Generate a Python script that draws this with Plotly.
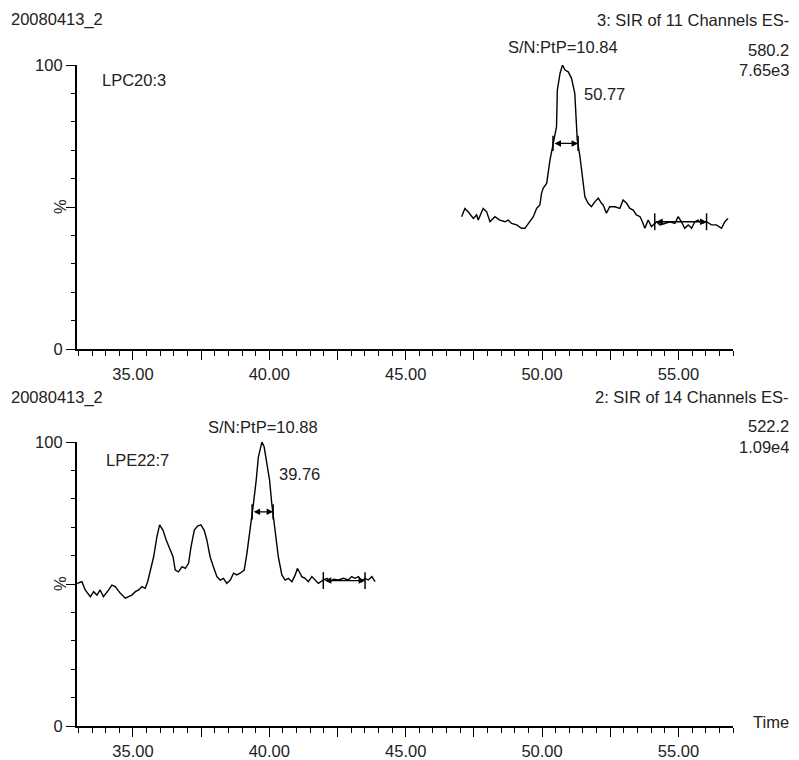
import plotly.graph_objects as go

# ---------------- data ----------------
top_time = [47.05,47.17,47.29,47.48,47.60,47.66,47.84,47.97,48.09,48.27,48.45,48.64,48.76,48.88,49.07,49.25,49.37,49.55,49.68,49.80,
            49.92,49.98,50.04,50.17,50.23,50.29,50.41,50.53,50.56,50.66,50.75,50.84,50.96,51.08,51.20,51.24,51.29,51.39,51.45,51.51,
            51.57,51.69,51.81,51.94,52.06,52.18,52.24,52.36,52.48,52.67,52.85,52.97,53.10,53.22,53.34,53.46,53.59,53.65,53.77,53.89,
            54.01,54.20,54.32,54.50,54.68,54.87,54.99,55.11,55.23,55.36,55.48,55.60,55.72,55.84,56.03,56.21,56.39,56.58,56.70,56.82]
top_int = [46.6,49.5,48.3,46.0,47.2,45.4,49.5,48.3,44.8,46.6,45.4,44.8,45.4,44.2,43.7,42.5,42.5,44.8,46.6,49.5,
           50.7,54.8,56.6,58.4,63.0,66.5,72.4,78.3,91.2,97.1,100.0,98.2,97.6,95.3,90.0,84.2,73.6,67.7,63.0,58.3,
           53.6,51.3,50.1,51.9,53.1,51.3,50.7,47.8,50.1,50.1,49.5,52.5,51.3,49.5,48.9,47.2,46.6,45.4,42.5,45.4,
           43.1,44.8,43.7,44.2,44.8,44.2,46.6,44.8,42.5,43.7,42.5,44.8,45.4,44.2,44.8,43.7,43.7,42.5,44.8,46.0]

bot_time = [32.95,33.13,33.25,33.44,33.56,33.68,33.80,33.92,34.11,34.23,34.35,34.54,34.72,34.84,34.96,35.09,35.21,35.33,35.45,35.54,
            35.63,35.76,35.88,35.98,36.10,36.22,36.37,36.47,36.55,36.67,36.80,36.92,37.04,37.13,37.25,37.37,37.49,37.61,37.71,37.83,
            37.95,38.08,38.20,38.32,38.44,38.57,38.69,38.81,38.93,39.08,39.18,39.30,39.42,39.52,39.60,39.73,39.81,39.91,40.01,40.09,
            40.21,40.33,40.46,40.58,40.70,40.83,40.95,41.03,41.13,41.19,41.31,41.43,41.56,41.68,41.80,41.98,42.11,42.23,42.35,42.53,
            42.72,42.90,43.02,43.14,43.27,43.39,43.51,43.63,43.76,43.88]
bot_int = [50.2,50.8,47.9,45.5,47.3,46.1,47.9,45.5,47.9,49.6,49.1,46.7,45.0,45.5,46.1,47.3,47.9,49.1,48.5,50.8,
           54.9,59.6,66.7,70.8,69.0,65.5,62.0,59.6,54.9,54.3,56.1,55.5,57.3,63.1,69.0,70.4,70.8,69.0,65.5,59.6,
           56.1,52.6,51.4,52.0,50.2,51.4,53.8,53.2,53.8,54.9,60.8,69.0,78.4,86.6,94.8,100.0,98.3,92.5,86.6,78.4,
           69.0,59.6,53.2,51.4,52.0,50.8,53.2,55.5,53.8,52.6,52.0,50.8,52.6,51.4,50.2,51.4,52.0,50.8,51.7,51.4,
           52.0,51.4,52.6,52.0,52.6,50.8,52.0,51.4,52.6,50.8]

x_range = [32.95, 57.0]
x_major = [35, 37.5, 40, 42.5, 45, 47.5, 50, 52.5, 55]
x_labels = ["35.00", "", "40.00", "", "45.00", "", "50.00", "", "55.00"]
y_ticks = [0, 50, 100]
y_labels = ["0", "", "100"]

top_peak_rt, bot_peak_rt = 50.77, 39.76
top_fwhm, top_fwhm_level = [50.40, 51.32], 72.4
bot_fwhm, bot_fwhm_level = [39.37, 40.14], 75.4
top_noise, top_noise_level = [54.13, 56.03], 44.8
bot_noise, bot_noise_level = [41.98, 43.51], 51.2

# ---------------- layout helpers (page pixels; page has an 8px body margin) ----------------
OFF = 8
W, H = 799 - OFF, 760 - OFF
ML = 77 - OFF
MR = W - (733 - OFF)
PW = W - ML - MR
def px(x):
    return (x - OFF - ML) / PW
def py(y):
    return 1 - (y - OFF) / H

FONT = "Liberation Sans, Arial, sans-serif"
FS = 16.5
TC = "#222222"

fig = go.Figure()
line = dict(color="black", width=1.4)
fig.add_trace(go.Scatter(x=top_time, y=top_int, mode="lines", line=line, xaxis="x", yaxis="y", showlegend=False))
fig.add_trace(go.Scatter(x=bot_time, y=bot_int, mode="lines", line=line, xaxis="x2", yaxis="y2", showlegend=False))

for xs, lvl, xa, ya, sz in [(top_fwhm, top_fwhm_level, "x", "y", 11), (bot_fwhm, bot_fwhm_level, "x2", "y2", 11),
                            (top_noise, top_noise_level, "x", "y", 12), (bot_noise, bot_noise_level, "x2", "y2", 12)]:
    fig.add_trace(go.Scatter(x=xs, y=[lvl, lvl], mode="markers", xaxis=xa, yaxis=ya, showlegend=False,
                             marker=dict(symbol="line-ns", size=sz, line=dict(color="black", width=1.5))))

annotations = []
for xs, lvl, xa, ya in [(top_fwhm, top_fwhm_level, "x", "y"), (bot_fwhm, bot_fwhm_level, "x2", "y2"),
                        (top_noise, top_noise_level, "x", "y"), (bot_noise, bot_noise_level, "x2", "y2")]:
    annotations.append(dict(x=xs[1], y=lvl, ax=xs[0], ay=lvl, xref=xa, yref=ya, axref=xa, ayref=ya,
                            text="", showarrow=True, arrowhead=2, arrowside="end+start", arrowsize=1,
                            arrowwidth=1.3, arrowcolor="black", standoff=0, startstandoff=0))

def txt(s, x, y, xanchor="left", xref="paper", angle=0):
    annotations.append(dict(text=s, x=x, y=py(y), xref=xref, yref="paper", xanchor=xanchor, yanchor="middle",
                            showarrow=False, textangle=angle, font=dict(family=FONT, size=FS, color=TC)))

# top panel texts
txt("20080413_2", px(9), 20)
txt("3: SIR of 11 Channels ES-", px(791), 20, "right")
txt("S/N:PtP=10.84", top_peak_rt, 47, "center", xref="x")
txt("580.2", px(791), 50, "right")
txt("7.65e3", px(791), 70, "right")
txt("LPC20:3", px(100), 80)
txt("50.77", px(582), 94)
txt("%", px(60), 207, "center", angle=-90)
# bottom panel texts
txt("20080413_2", px(9), 398)
txt("2: SIR of 14 Channels ES-", px(791), 397, "right")
txt("S/N:PtP=10.88", bot_peak_rt, 427, "center", xref="x2")
txt("522.2", px(791), 426, "right")
txt("1.09e4", px(791), 447, "right")
txt("LPE22:7", px(104), 460)
txt("39.76", px(277), 474)
txt("%", px(60), 584, "center", angle=-90)
txt("Time", px(751), 722)

def xaxis(anchor):
    return dict(domain=[0, 1], anchor=anchor, range=x_range, tickmode="array", tickvals=x_major, ticktext=x_labels,
                ticks="outside", ticklen=9, tickwidth=1.3, tickcolor="black", showline=True, linewidth=2.2,
                linecolor="black", showgrid=False, zeroline=False, automargin=False,
                tickfont=dict(family=FONT, size=FS, color=TC),
                minor=dict(tickmode="linear", tick0=0, dtick=0.5, ticks="outside", ticklen=5, tickwidth=1.3,
                           tickcolor="black", showgrid=False))

def yaxis(anchor, dom):
    return dict(domain=dom, anchor=anchor, range=[0, 100], tickmode="array", tickvals=y_ticks, ticktext=y_labels,
                ticks="outside", ticklen=9, tickwidth=1.3, tickcolor="black", showline=True, linewidth=2.2,
                linecolor="black", showgrid=False, zeroline=False, automargin=False,
                tickfont=dict(family=FONT, size=FS, color=TC),
                minor=dict(tickmode="linear", tick0=0, dtick=10, ticks="outside", ticklen=4, tickwidth=1.3,
                           tickcolor="black", showgrid=False))

fig.update_layout(
    width=W, height=H, template="none",
    margin=dict(l=ML, r=MR, t=0, b=0),
    paper_bgcolor="white", plot_bgcolor="white",
    xaxis=xaxis("y"), yaxis=yaxis("x", [py(349), py(65)]),
    xaxis2=xaxis("y2"), yaxis2=yaxis("x2", [py(726), py(442)]),
    annotations=annotations, showlegend=False,
)

fig.write_html("out.html")
